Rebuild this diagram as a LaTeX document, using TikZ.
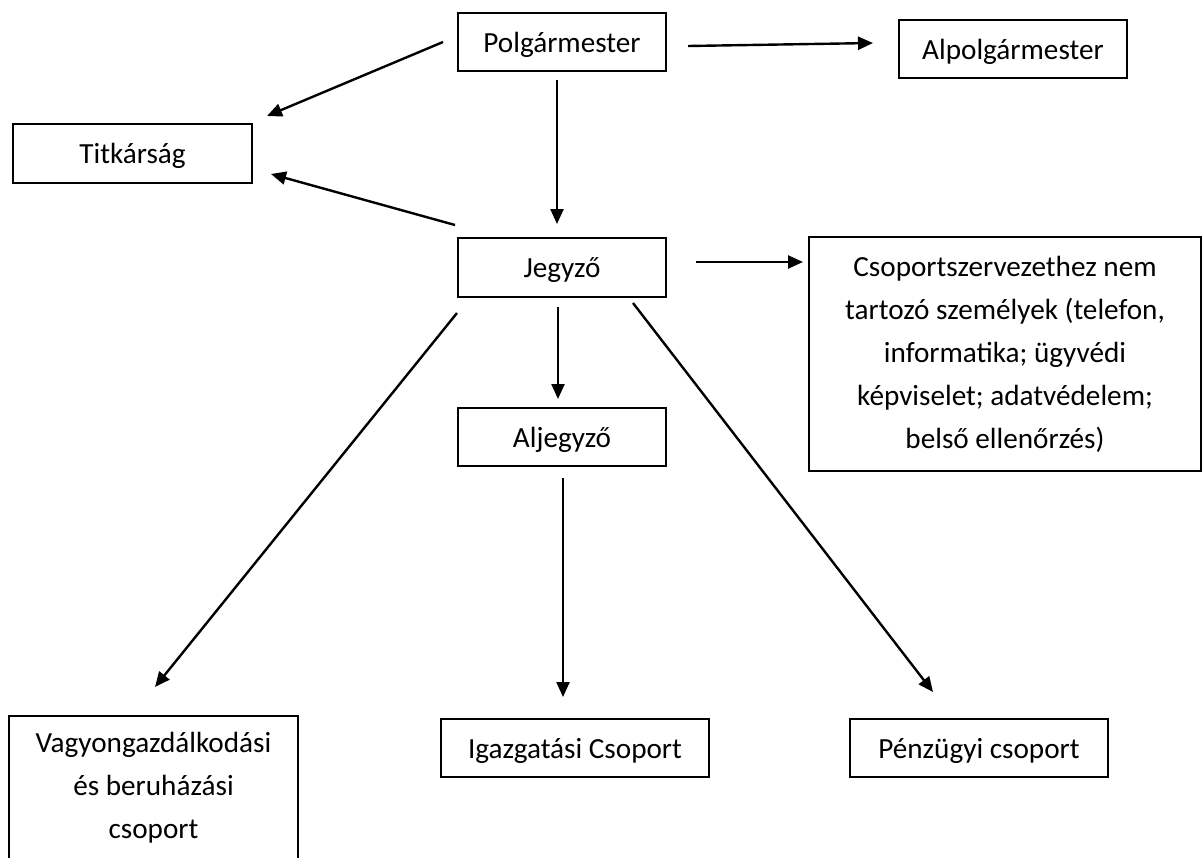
\documentclass[tikz,border=0pt]{standalone}
\usepackage{fontspec}
\setmainfont{Carlito}
\usetikzlibrary{arrows.meta}
\begin{document}
\begin{tikzpicture}[x=0.5pt,y=-0.5pt,
  box/.style={draw,line width=1pt,inner sep=0pt,align=center,
    font=\fontsize{14.6pt}{21.5pt}\selectfont},
  onebox/.style={box,text height=10pt,text depth=0pt},
  conn/.style={line width=1.2pt,-{Triangle[length=7.5pt,width=6.5pt]}}]
\clip (0,0) rectangle (1204,857);
\fill[white] (0,0) rectangle (1204,857);

\node[onebox,minimum width=104pt,minimum height=29pt] (pol) at (562,42) {Polgármester};
\node[onebox,minimum width=114pt,minimum height=29pt] (alp) at (1013,49) {Alpolgármester};
\node[onebox,minimum width=119.5pt,minimum height=29.5pt] (tit) at (132.5,153.5) {Titkárság};
\node[onebox,minimum width=104pt,minimum height=29.5pt] (jeg) at (562,267.5) {Jegyző};
\node[box,minimum width=196pt,minimum height=117pt] (cso) at (1005,354)
  {Csoportszervezethez nem\\tartozó személyek (telefon,\\informatika; ügyvédi\\képviselet; adatvédelem;\\belső ellenőrzés)};
\node[onebox,minimum width=104pt,minimum height=29pt] (alj) at (562,437) {Aljegyző};
\node[box,minimum width=144.5pt,minimum height=72pt,anchor=north] (vag) at (153.5,715)
  {Vagyongazdálkodási\\és beruházási\\csoport};
\node[onebox,minimum width=134pt,minimum height=29pt] (igaz) at (575,748) {Igazgatási Csoport};
\node[onebox,minimum width=129pt,minimum height=29pt] (pen) at (979,748) {Pénzügyi csoport};

\coordinate (c1s) at (688,46);  \coordinate (c1e) at (873,43);
\coordinate (c2s) at (443,42);  \coordinate (c2e) at (267,116);
\coordinate (c3s) at (557,80);  \coordinate (c3e) at (557,224);
\coordinate (c4s) at (455,225); \coordinate (c4e) at (271,174);
\coordinate (c5s) at (696,262); \coordinate (c5e) at (803,262);
\coordinate (c6s) at (558,307); \coordinate (c6e) at (558,399);
\coordinate (c7s) at (457,313); \coordinate (c7e) at (155,687);
\coordinate (c8s) at (633,303); \coordinate (c8e) at (933,692);
\coordinate (c9s) at (563,478); \coordinate (c9e) at (563,697);

\draw[conn] (c1s) -- (c1e);
\draw[conn] (c2s) -- (c2e);
\draw[conn] (c3s) -- (c3e);
\draw[conn] (c4s) -- (c4e);
\draw[conn] (c5s) -- (c5e);
\draw[conn] (c6s) -- (c6e);
\draw[conn] (c7s) -- (c7e);
\draw[conn] (c8s) -- (c8e);
\draw[conn] (c9s) -- (c9e);
\end{tikzpicture}
\end{document}
